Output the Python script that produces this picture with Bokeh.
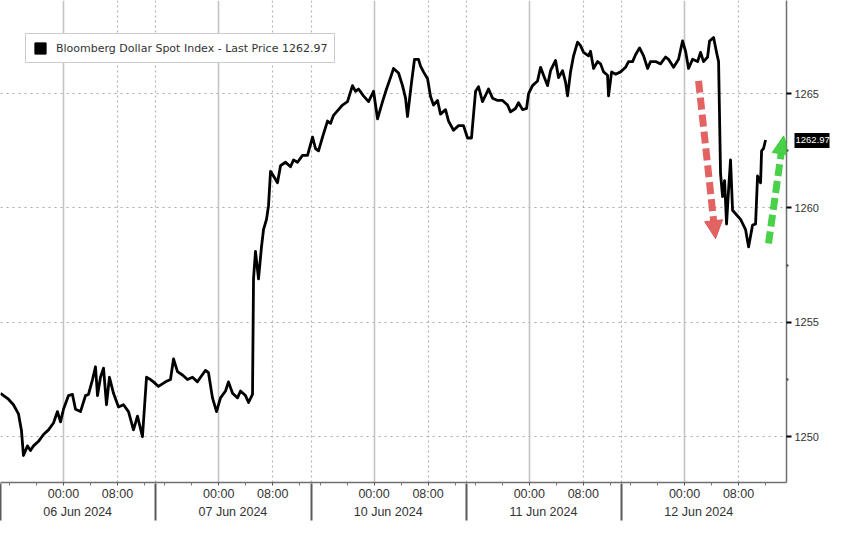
from bokeh.plotting import figure
from bokeh.models import (Range1d, FixedTicker, LinearAxis, Grid, Arrow,
                          NormalHead, Legend, LegendItem, CustomJSTickFormatter)
from bokeh.embed import file_html
from bokeh.resources import INLINE

# ---- data: trading-time axis in hours (00:00 06 Jun = 0, weekend removed, 23h sessions)
jun06_t = [-9.33, -8.15, -7.41, -6.67, -6.22, -5.93, -5.33, -4.89, -4.44, -3.70, -2.96, -2.22,
           -1.48, -0.89, -0.44, 0.0, 0.74, 1.33, 1.78, 2.52, 3.26, 3.70, 4.30, 4.74, 5.04, 5.48,
           5.93, 6.37, 6.81, 7.41, 8.15, 8.89, 9.63, 10.37, 10.96, 11.70, 12.30, 12.89, 13.33]
jun06_p = [1251.9, 1251.64, 1251.4, 1251.0, 1250.26, 1249.18, 1249.6, 1249.4, 1249.6, 1249.8,
           1250.1, 1250.3, 1250.6, 1251.1, 1250.65, 1251.2, 1251.8, 1251.85, 1251.2, 1251.1,
           1251.8, 1251.85, 1252.5, 1253.06, 1251.8, 1252.6, 1253.0, 1251.4, 1252.6, 1251.9,
           1251.3, 1251.4, 1251.1, 1250.3, 1250.9, 1250.0, 1252.6, 1252.5, 1252.4]

jun07_t = [14.07, 15.11, 15.85, 16.30, 16.89, 17.63, 18.37, 19.11, 19.85, 20.30, 21.04, 21.48,
           22.07, 22.67, 23.26, 24.0, 24.44, 25.04, 25.78, 26.22, 26.96, 27.41, 28.0, 28.15,
           28.44, 28.89, 29.33, 29.63, 30.07, 30.37, 30.67, 31.11, 31.70, 32.15, 32.89, 33.63,
           34.07, 34.67, 35.41, 36.15]
jun07_p = [1252.2, 1252.4, 1252.5, 1253.4, 1252.85, 1252.7, 1252.5, 1252.6, 1252.4, 1252.6,
           1252.9, 1252.8, 1251.7, 1251.1, 1251.7, 1252.0, 1252.4, 1251.9, 1251.7, 1252.0,
           1251.8, 1251.5, 1251.85, 1256.9, 1258.1, 1256.9, 1258.3, 1259.05, 1259.5, 1260.1,
           1261.6, 1261.4, 1261.1, 1261.85, 1262.0, 1261.8, 1262.1, 1262.0, 1262.3, 1262.3]

jun10_t = [36.89, 37.33, 37.78, 38.37, 39.11, 39.56, 40.0, 40.74, 41.33, 42.07, 42.81, 43.26,
           43.70, 44.44, 45.19, 45.93, 46.52, 47.26, 47.85, 48.44, 48.89, 49.63, 50.22, 50.67,
           50.96, 51.56, 52.0, 52.59, 52.89, 53.33, 53.93, 54.37, 54.81, 55.41, 55.85, 56.59,
           57.04, 57.78, 58.52, 59.26]
jun10_p = [1263.1, 1262.6, 1262.5, 1263.1, 1263.8, 1263.7, 1264.05, 1264.3, 1264.5, 1264.65,
           1265.35, 1265.1, 1265.2, 1264.9, 1264.65, 1265.1, 1263.9, 1264.65, 1265.2, 1265.7,
           1266.1, 1265.9, 1265.35, 1264.8, 1264.0, 1265.5, 1266.5, 1266.5, 1266.2, 1265.95,
           1265.65, 1264.87, 1264.5, 1264.7, 1264.1, 1264.3, 1263.8, 1263.4, 1263.6, 1263.6]

jun11_t = [59.85, 60.44, 61.04, 61.48, 62.07, 62.96, 63.56, 64.30, 65.04, 65.78, 66.22, 66.96,
           67.41, 68.0, 68.59, 68.89, 69.48, 70.22, 70.67, 71.11, 71.70, 72.15, 72.89, 73.33,
           73.93, 74.37, 74.67, 75.11, 75.56, 76.15, 76.59, 77.04, 77.78, 78.07, 78.52, 79.11,
           79.56, 80.0, 80.59, 80.74, 81.19, 81.78, 82.52]
jun11_p = [1263.06, 1263.06, 1265.1, 1265.3, 1264.65, 1265.2, 1264.8, 1264.7, 1264.7, 1264.5,
           1264.2, 1264.35, 1264.6, 1264.3, 1264.35, 1265.0, 1265.35, 1265.55, 1266.15, 1265.8,
           1265.35, 1266.0, 1266.45, 1265.7, 1266.0, 1265.5, 1264.9, 1265.95, 1266.65, 1267.25,
           1267.1, 1266.8, 1266.65, 1266.85, 1266.1, 1266.4, 1266.3, 1265.95, 1265.8, 1264.9,
           1265.95, 1265.85, 1265.95]

jun12_t = [83.26, 83.70, 84.30, 84.74, 85.33, 85.93, 86.52, 86.96, 87.70, 88.44, 89.19, 89.63,
           90.37, 91.11, 91.70, 92.15, 92.59, 93.19, 93.93, 94.37, 94.81, 95.41, 95.70, 96.30,
           96.74, 97.04, 97.33, 97.63, 97.93, 98.22, 98.52, 98.81, 99.11, 99.56, 100.30, 101.04,
           101.48, 102.07, 102.52, 102.81, 103.26, 103.41, 103.70, 104.0]
jun12_p = [1266.15, 1266.4, 1266.4, 1266.7, 1267.0, 1266.65, 1266.1, 1266.4, 1266.4, 1266.3,
           1266.6, 1266.5, 1266.15, 1266.5, 1267.3, 1266.85, 1266.1, 1266.5, 1266.4, 1266.8,
           1266.4, 1266.6, 1267.3, 1267.45, 1266.8, 1266.4, 1261.5, 1260.5, 1261.2, 1259.3,
           1260.8, 1262.1, 1259.9, 1259.75, 1259.5, 1259.05, 1258.3, 1259.25, 1259.3, 1261.4,
           1261.1, 1262.5, 1262.6, 1262.97]

last_price = 1262.97
series_name = "Bloomberg Dollar Spot Index - Last Price 1262.97"

# axis ticks / labels
time_tick_pos = [0, 8, 23, 31, 46, 54, 69, 77, 92, 100]
time_tick_labels = ["00:00", "08:00"] * 5
midnight_pos = [0, 23, 46, 69, 92]
morning_pos = [8, 31, 54, 77, 100]
session_starts = [-9.33, 13.67, 36.67, 59.67, 82.67]
date_pos = [2.1, 25.1, 48.1, 71.1, 94.1]
date_labels = ["06 Jun 2024", "07 Jun 2024", "10 Jun 2024", "11 Jun 2024", "12 Jun 2024"]
y_ticks = [1250, 1255, 1260, 1265]
y_minor = [1252.5, 1257.5, 1262.5]

# annotation arrows (data coordinates)
red_arrow = dict(x0=94.07, y0=1265.56, x1=96.59, y1=1258.66)
green_arrow = dict(x0=104.44, y0=1258.45, x1=106.67, y1=1263.15)

t_hours = jun06_t + jun07_t + jun10_t + jun11_t + jun12_t
price = jun06_p + jun07_p + jun10_p + jun11_p + jun12_p

X0, X1 = -9.33, 107.1
Y0, Y1 = 1248.0, 1269.07
FONT = "Liberation Sans"
TXT = "#333333"
NAN = float("nan")

p = figure(width=832, height=521, x_range=Range1d(X0, X1), y_range=Range1d(Y0, Y1),
           y_axis_location="right", output_backend="svg", toolbar_location=None,
           min_border_left=0, min_border_top=0, min_border_right=40, min_border_bottom=0)
p.outline_line_color = None
p.background_fill_color = "white"
p.border_fill_color = "white"

# grids
p.xgrid.visible = False
p.ygrid.grid_line_color = "#a8a8a8"
p.ygrid.grid_line_dash = "2 4"
p.ygrid.grid_line_width = 1
p.add_layout(Grid(dimension=0, ticker=FixedTicker(ticks=midnight_pos),
                  grid_line_color="#c4c4c4", grid_line_width=1.6))
p.add_layout(Grid(dimension=0, ticker=FixedTicker(ticks=morning_pos + session_starts),
                  grid_line_color="#b4b4b4", grid_line_width=1.2, grid_line_dash="2 3"))

# right axis
ya = p.yaxis[0]
ya.ticker = FixedTicker(ticks=y_ticks, minor_ticks=y_minor)
ya.axis_line_color = "#707070"
ya.axis_line_width = 1.5
ya.major_tick_out = 5
ya.major_tick_in = 0
ya.major_tick_line_color = "black"
ya.major_tick_line_width = 2
ya.minor_tick_out = 2
ya.minor_tick_in = 0
ya.minor_tick_line_color = "#444444"
ya.minor_tick_line_width = 2
ya.major_label_standoff = 3
ya.major_label_text_font = FONT
ya.major_label_text_font_size = "11px"
ya.major_label_text_color = TXT

# last-price tag: a second right axis whose single tick is drawn as a black bar
tag = LinearAxis(ticker=FixedTicker(ticks=[last_price]),
                 formatter=CustomJSTickFormatter(code="return tick.toFixed(2);"))
tag.axis_line_color = None
tag.major_tick_line_color = "black"
tag.major_tick_line_width = 15
tag.major_tick_in = 27
tag.major_tick_out = 8
tag.minor_tick_line_color = None
tag.major_label_standoff = -34
tag.major_label_text_color = "white"
tag.major_label_text_font = FONT
tag.major_label_text_font_size = "9.5px"
p.add_layout(tag, "right")

# bottom time axis
xa = p.xaxis[0]
xa.ticker = FixedTicker(ticks=time_tick_pos,
                        minor_ticks=[m + 23 * k for k in range(5) for m in (-8, -4, 4, 12)])
xa.formatter = CustomJSTickFormatter(args=dict(labels=time_tick_labels), code="return labels[index];")
xa.axis_line_color = "#707070"
xa.axis_line_width = 1.5
xa.major_tick_out = 3
xa.major_tick_in = 0
xa.major_tick_line_color = "#555555"
xa.minor_tick_out = 3
xa.minor_tick_in = 0
xa.minor_tick_line_color = "#777777"
xa.major_label_standoff = 1
xa.major_label_text_font = FONT
xa.major_label_text_font_size = "12.5px"
xa.major_label_text_color = TXT

# date axis (its minor ticks are the dark session separators)
da = LinearAxis(ticker=FixedTicker(ticks=date_pos, minor_ticks=session_starts),
                formatter=CustomJSTickFormatter(args=dict(labels=date_labels), code="return labels[index];"))
da.axis_line_color = None
da.major_tick_line_color = None
da.major_tick_out = 0
da.major_tick_in = 0
da.minor_tick_line_color = "#5a5a5a"
da.minor_tick_line_width = 2
da.minor_tick_in = 20
da.minor_tick_out = 17
da.major_label_standoff = -16
da.major_label_text_font = FONT
da.major_label_text_font_size = "12.5px"
da.major_label_text_color = TXT
p.add_layout(da, "below")

# price line
line = p.line(t_hours, price, line_color="black", line_width=2.8, line_join="round")

# legend (square swatch via a data-less quad)
sw = p.quad(left=[NAN], right=[NAN], top=[NAN], bottom=[NAN], fill_color="black", line_color="black")
legend = Legend(items=[LegendItem(label=series_name, renderers=[sw])], location=(25, 419))
legend.border_line_color = "#9a9a9a"
legend.border_line_width = 1.5
legend.background_fill_color = "white"
legend.background_fill_alpha = 1
legend.label_text_font = "DejaVu Sans"
legend.label_text_font_size = "11px"
legend.label_text_color = TXT
legend.glyph_width = 14
legend.glyph_height = 14
legend.label_height = 14
legend.label_standoff = 9
legend.padding = 7
legend.margin = 0
legend.spacing = 0
p.add_layout(legend)

# arrows
RED = "#e05252"
GREEN = "#35cc35"
p.add_layout(Arrow(end=NormalHead(size=18, fill_color=RED, line_color=RED, fill_alpha=0.9, line_alpha=0.9),
                   x_start=red_arrow["x0"], y_start=red_arrow["y0"],
                   x_end=red_arrow["x1"], y_end=red_arrow["y1"],
                   line_color=RED, line_width=7, line_dash="12 5", line_alpha=0.9))
p.add_layout(Arrow(end=NormalHead(size=18, fill_color=GREEN, line_color=GREEN, fill_alpha=0.9, line_alpha=0.9),
                   x_start=green_arrow["x0"], y_start=green_arrow["y0"],
                   x_end=green_arrow["x1"], y_end=green_arrow["y1"],
                   line_color=GREEN, line_width=7, line_dash="12 5", line_alpha=0.9))

open("out.html", "w").write(file_html(p, INLINE))
